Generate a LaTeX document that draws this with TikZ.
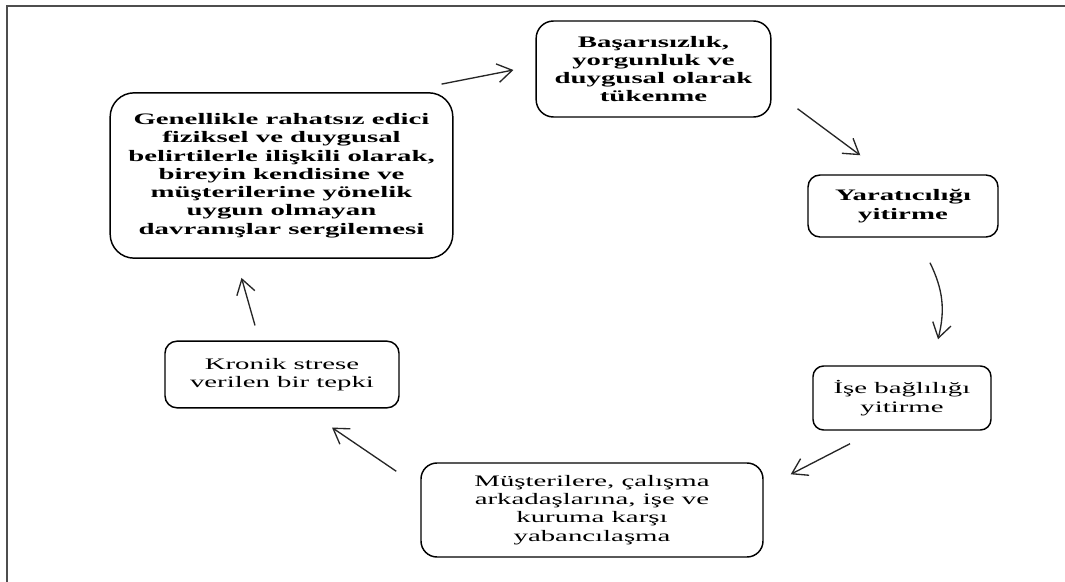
\documentclass[tikz,border=0pt]{standalone}
\usepackage{fontspec}
\setmainfont{Liberation Serif}
\newfontfamily\widefont[FakeStretch=1.8]{Liberation Serif}
\usetikzlibrary{arrows.meta}
\definecolor{framegray}{HTML}{4D4D4D}

\begin{document}
\begin{tikzpicture}[
    x=0.75pt, y=-0.75pt,
    >={Straight Barb[length=11pt,width=14pt]},
    phase/.style={
      draw, rectangle, fill=white, align=center,
      line width=1.1pt, inner sep=2pt,
      font=\widefont\fontsize{12}{13.7}\selectfont},
    toprow/.style={phase,
      font=\widefont\bfseries\fontsize{12}{13.7}\selectfont},
    arr/.style={->, line width=1pt, color=black!85},
  ]
  \useasboundingbox (0,0) rectangle (1065,582);

  % ── Frame ──
  \draw[framegray, line width=1.6pt] (7,582) -- (7,6) -- (1065,6);

  % ── Upper phases ──
  \node[toprow, minimum width=257pt, minimum height=124pt,
        rounded corners=18pt] (gen) at (281.5,175.5)
    {Genellikle rahatsız edici\\ fiziksel ve duygusal\\
     belirtilerle ilişkili olarak,\\ bireyin kendisine ve\\
     müşterilerine yönelik\\ uygun olmayan\\ davranışlar sergilemesi};
  \node[toprow, minimum width=176pt, minimum height=72pt,
        rounded corners=13pt] (fail) at (653.5,69)
    {Başarısızlık,\\ yorgunluk ve\\ duygusal olarak\\ tükenme};
  \node[toprow, minimum width=142.5pt, minimum height=46.5pt,
        rounded corners=9pt] (creat) at (903,206)
    {Yaratıcılığı\\ yitirme};

  % ── Lower phases ──
  \node[phase, minimum width=133.5pt, minimum height=48pt,
        rounded corners=8pt] (commit) at (902,398)
    {İşe bağlılığı\\ yitirme};
  \node[phase, minimum width=256.5pt, minimum height=70.5pt,
        rounded corners=12pt] (alien) at (592,510)
    {Müşterilere, çalışma\\ arkadaşlarına, işe ve\\
     kuruma karşı\\ yabancılaşma};
  \node[phase, minimum width=175.5pt, minimum height=50pt,
        rounded corners=9pt] (stress) at (282,374.5)
    {Kronik strese\\ verilen bir tepki};

  % ── Cycle arrows ──
  \draw[arr] ([shift={(-12,-8)}]gen.north east)
    -- ([shift={(-22,1)}]fail.west);
  \draw[arr] ([shift={(26,-9)}]fail.south east)
    -- ([shift={(53,-19)}]creat.north west);
  \draw[arr] ([shift={(27,25)}]creat.south)
    to[bend left=20] ([shift={(36,-26)}]commit.north);
  \draw[arr] ([shift={(-52,13)}]commit.south)
    -- ([shift={(27,12)}]alien.north east);
  \draw[arr] ([shift={(-24,9)}]alien.north west)
    -- ([shift={(50,19)}]stress.south);
  \draw[arr] ([shift={(-27,-15)}]stress.north)
    -- ([shift={(-40,19)}]gen.south);

\end{tikzpicture}
\end{document}
